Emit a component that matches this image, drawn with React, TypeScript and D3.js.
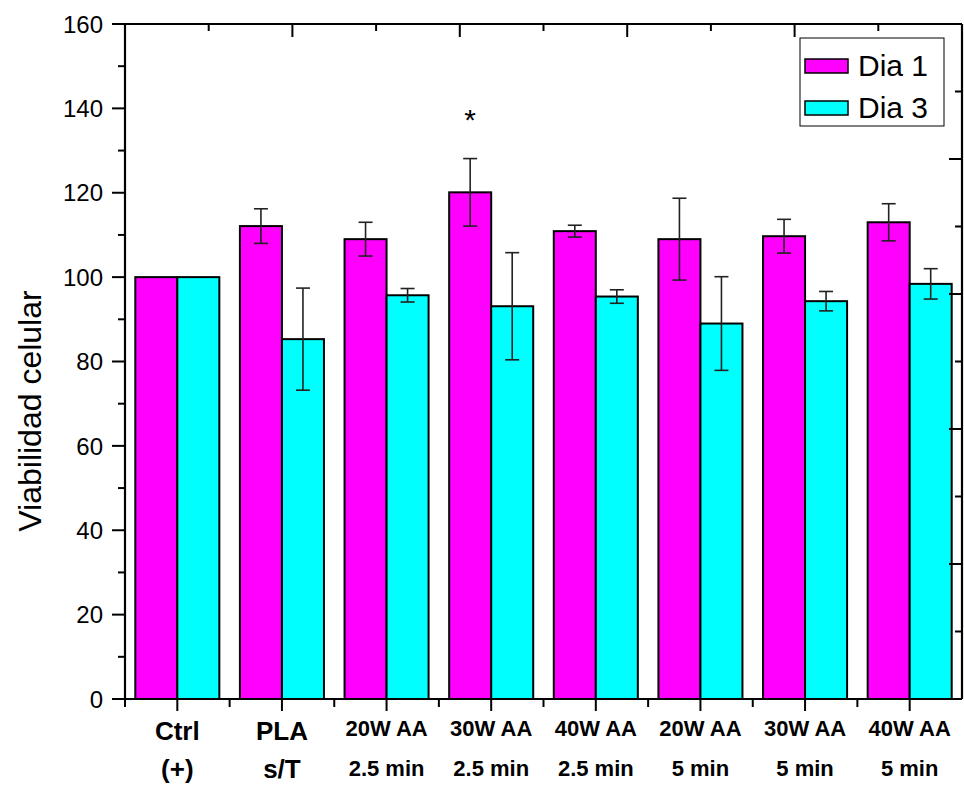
import React from 'react';
import * as d3 from 'd3';

// categories (two-line labels) and series
const categories = ['Ctrl', 'PLA', '20W AA 2.5', '30W AA 2.5', '40W AA 2.5', '20W AA 5', '30W AA 5', '40W AA 5'];
const labelLine1 = ['Ctrl', 'PLA', '20W AA', '30W AA', '40W AA', '20W AA', '30W AA', '40W AA'];
const labelLine2 = ['(+)', 's/T', '2.5 min', '2.5 min', '2.5 min', '5 min', '5 min', '5 min'];

const dia1 = [100, 112.1, 109.0, 120.1, 110.9, 109.0, 109.7, 113.0];
const dia1Err = [0, 4.1, 4.0, 8.0, 1.4, 9.7, 4.0, 4.4];
const dia3 = [100, 85.3, 95.7, 93.1, 95.4, 89.0, 94.3, 98.4];
const dia3Err = [0, 12.1, 1.6, 12.7, 1.6, 11.1, 2.3, 3.6];

const seriesNames = ['Dia 1', 'Dia 3'];
const seriesColors = ['#ff00ff', '#00ffff'];
const yTicks = [0, 20, 40, 60, 80, 100, 120, 140, 160];
const significant = [3];

const W = 964;
const H = 789;
const left = 125;
const right = 962;
const top = 24;
const bottom = 699;

const App: React.FC = () => {
  const x = d3.scaleBand<string>().domain(categories).range([left, right]).paddingInner(0).paddingOuter(0);
  const inner = d3.scaleBand<string>().domain(seriesNames).range([0, x.bandwidth()]).paddingOuter(0.245).paddingInner(0);
  const y = d3.scaleLinear().domain([0, 160]).range([bottom, top]);
  const yMinor = d3.range(10, 160, 20);
  const topScale = d3.scaleLinear().domain([0, 10]).range([left, right]);
  const rightScale = d3.scaleLinear().domain([0, 10]).range([bottom, top]);
  const auxTicks = d3.range(0, 11);

  const series = [
    { name: seriesNames[0], values: dia1, errs: dia1Err, color: seriesColors[0] },
    { name: seriesNames[1], values: dia3, errs: dia3Err, color: seriesColors[1] },
  ];

  const font = 'Arial, "Liberation Sans", sans-serif';
  const bw = inner.bandwidth();

  return (
    <svg width={W} height={H} style={{ position: 'absolute', left: 0, top: 0, background: 'white' }} fontFamily={font}>
      {/* bars */}
      {series.map(s => (
        <g key={s.name}>
          {categories.map((c, i) => (
            <rect key={c} x={(x(c) ?? 0) + (inner(s.name) ?? 0)} y={y(s.values[i])} width={bw}
              height={y(0) - y(s.values[i])} fill={s.color} stroke="#000" strokeWidth={2} />
          ))}
        </g>
      ))}
      {/* error bars */}
      {series.map(s => (
        <g key={s.name + 'err'} stroke="#222" strokeWidth={1.6}>
          {categories.map((c, i) => {
            if (!s.errs[i]) return null;
            const cx = (x(c) ?? 0) + (inner(s.name) ?? 0) + bw / 2;
            const y1 = y(s.values[i] + s.errs[i]);
            const y2 = y(s.values[i] - s.errs[i]);
            return (
              <g key={c}>
                <line x1={cx} x2={cx} y1={y1} y2={y2} />
                <line x1={cx - 7} x2={cx + 7} y1={y1} y2={y1} />
                <line x1={cx - 7} x2={cx + 7} y1={y2} y2={y2} />
              </g>
            );
          })}
        </g>
      ))}
      {/* significance */}
      {significant.map(i => {
        const c = categories[i];
        const cx = (x(c) ?? 0) + (inner(seriesNames[0]) ?? 0) + bw / 2;
        return (
          <text key={c} x={cx} y={y(dia1[i] + dia1Err[i]) - 29} textAnchor="middle" fontSize={30}>*</text>
        );
      })}

      {/* frame */}
      <g stroke="#000" strokeWidth={2.2} fill="none">
        <line x1={left} x2={right} y1={bottom} y2={bottom} />
        <line x1={left} x2={right} y1={top} y2={top} />
        <line x1={left} x2={left} y1={top} y2={bottom} />
        <line x1={right} x2={right} y1={top} y2={bottom} />
      </g>

      {/* left axis */}
      <g stroke="#000" strokeWidth={2}>
        {yTicks.map(t => <line key={t} x1={left - 13} x2={left} y1={y(t)} y2={y(t)} />)}
        {yMinor.map(t => <line key={t} x1={left - 7} x2={left} y1={y(t)} y2={y(t)} />)}
      </g>
      {yTicks.map(t => (
        <text key={t} x={left - 22} y={y(t)} dy="0.36em" textAnchor="end" fontSize={24}>{t}</text>
      ))}

      {/* bottom axis */}
      <g stroke="#000" strokeWidth={2}>
        {categories.map(c => {
          const cx = (x(c) ?? 0) + x.bandwidth() / 2;
          return <line key={c} x1={cx} x2={cx} y1={bottom} y2={bottom + 12} />;
        })}
        {categories.map(c => {
          const bx = x(c) ?? 0;
          return <line key={c} x1={bx} x2={bx} y1={bottom} y2={bottom + 8} />;
        })}
      </g>
      {categories.map((c, i) => {
        const cx = (x(c) ?? 0) + x.bandwidth() / 2;
        const big = i < 2;
        return (
          <g key={c} fontWeight="bold" textAnchor="middle">
            <text x={cx} y={big ? 740 : 736} fontSize={big ? 26 : 22}>{labelLine1[i]}</text>
            <text x={cx} y={big ? 778 : 776} fontSize={big ? 26 : 22}>{labelLine2[i]}</text>
          </g>
        );
      })}

      {/* top and right axes (inward ticks) */}
      <g stroke="#000" strokeWidth={2}>
        {auxTicks.map(t => (
          <line key={'t' + t} x1={topScale(t)} x2={topScale(t)} y1={top} y2={top + (t % 2 === 0 ? 13 : 7)} />
        ))}
        {auxTicks.map(t => (
          <line key={'r' + t} x1={right - (t % 2 === 0 ? 13 : 7)} x2={right} y1={rightScale(t)} y2={rightScale(t)} />
        ))}
      </g>

      {/* y label */}
      <text transform="translate(41, 411) rotate(-90)" textAnchor="middle" fontSize={32}>
        Viabilidad celular
      </text>

      {/* legend */}
      <g>
        <rect x={800} y={38} width={144} height={88} fill="white" stroke="#000" strokeWidth={1} />
        {series.map((s, i) => (
          <g key={s.name}>
            <rect x={805} y={59 + i * 42} width={43} height={14} fill={s.color} stroke="#000" strokeWidth={1.5} />
            <text x={858} y={76 + i * 42} fontSize={30}>{s.name}</text>
          </g>
        ))}
      </g>
    </svg>
  );
};

export default App;
